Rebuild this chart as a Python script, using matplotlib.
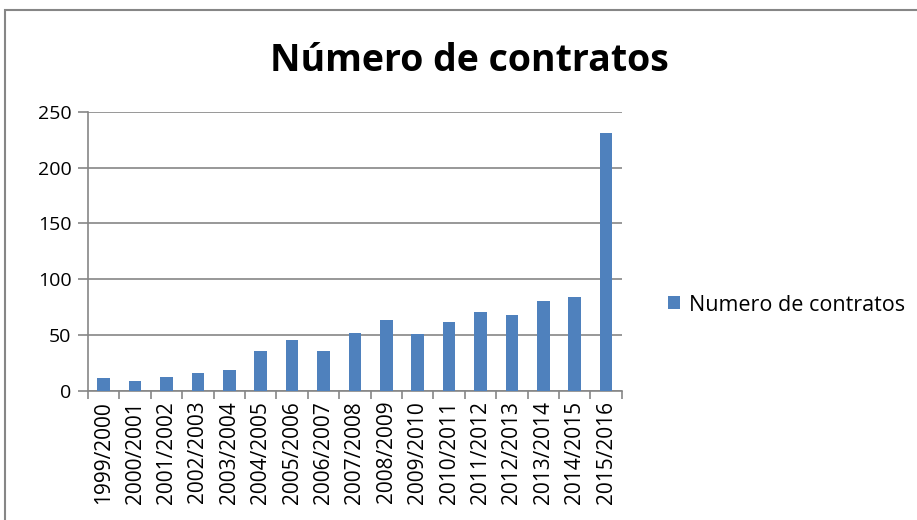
import matplotlib
matplotlib.use('Agg')
import matplotlib.pyplot as plt
from matplotlib.patches import Rectangle
import numpy as np

seasons = ['1999/2000', '2000/2001', '2001/2002', '2002/2003', '2003/2004',
           '2004/2005', '2005/2006', '2006/2007', '2007/2008', '2008/2009',
           '2009/2010', '2010/2011', '2011/2012', '2012/2013', '2013/2014',
           '2014/2015', '2015/2016']
contratos = [12, 9, 13, 16, 19, 36, 46, 36, 52, 64, 51, 62, 71, 68, 81, 84, 231]

bar_color = '#4F81BD'
grid_color = '#868686'

plt.rcParams['font.family'] = ['Open Sans', 'DejaVu Sans']

fig = plt.figure(figsize=(9.17, 5.2), dpi=100)
ax = fig.add_axes([0.096, 0.248, 0.582, 0.537])

x = np.arange(len(seasons))
ax.bar(x, contratos, width=0.4, color=bar_color, label='Numero de contratos', zorder=3)

ax.set_xlim(-0.5, len(seasons) - 0.5)
ax.set_ylim(0, 250)
ax.set_yticks(np.arange(0, 251, 50))
ax.yaxis.grid(True, color=grid_color, linewidth=1.2, zorder=0)
ax.set_xticks(x)
ax.set_xticklabels(seasons, rotation=90, fontsize=15)
ax.set_xticks(np.arange(-0.5, len(seasons)), minor=True)
ax.tick_params(axis='x', which='major', length=0, pad=7)
ax.tick_params(axis='x', which='minor', length=6, color=grid_color, width=1.2)
ax.tick_params(axis='y', length=7, color=grid_color, width=1.2, labelsize=14, pad=5)

for side in ['top', 'right']:
    ax.spines[side].set_visible(False)
for side in ['left', 'bottom']:
    ax.spines[side].set_color(grid_color)
    ax.spines[side].set_linewidth(1.2)

fig.text(0.512, 0.882, 'Número de contratos', ha='center', va='center',
         fontsize=27, fontweight='bold')

ax.legend(loc='center left', bbox_to_anchor=(1.05, 0.308), frameon=False,
          fontsize=15.5, handlelength=0.55, handleheight=0.55, handletextpad=0.45)

# chart border
fig.patches.append(Rectangle((5 / 917, -0.1), 1.2, 1.1 - 10 / 520,
                             transform=fig.transFigure, fill=False,
                             edgecolor='#868686', linewidth=1.5, clip_on=False))

fig.savefig('out.png', dpi=100)
